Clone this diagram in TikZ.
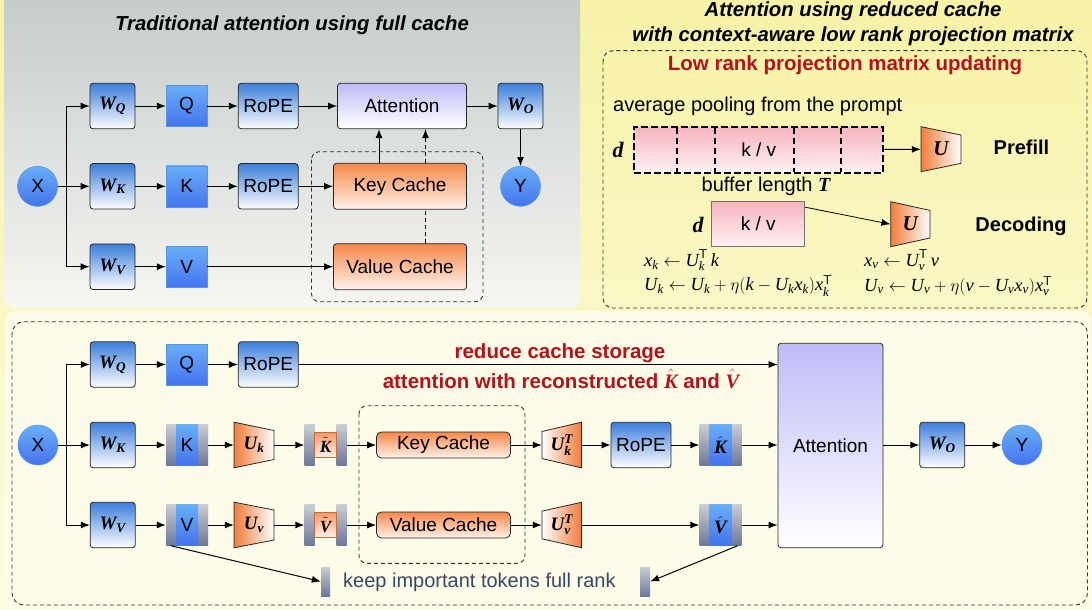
\documentclass[tikz,border=0pt]{standalone}
\usepackage{amsmath}
\usepackage{fontspec}
\setmainfont{Liberation Sans}
\newfontfamily\tms{Liberation Serif}
\newcommand\tb[1]{\text{\tms\bfseries\itshape #1}}
\newcommand\ti[1]{\text{\tms\itshape #1}}
\usetikzlibrary{arrows.meta,calc}
\definecolor{bluetop}{HTML}{3B7EDB}
\definecolor{qtop}{HTML}{68AEF8}
\definecolor{qbot}{HTML}{4574EE}
\definecolor{qborder}{HTML}{5A96E6}
\definecolor{lav}{HTML}{BFBCF7}
\definecolor{orng}{HTML}{F5884A}
\definecolor{orngl}{HTML}{FFF2EA}
\definecolor{trapor}{HTML}{F07C3A}
\definecolor{redt}{HTML}{B5121B}
\definecolor{bartop}{HTML}{CACDD4}
\definecolor{barbot}{HTML}{6A7798}
\definecolor{pinktop}{HTML}{F7B5BE}
\definecolor{pinkbot}{HTML}{FFF2F4}
\definecolor{slate}{HTML}{394666}
\definecolor{graytop}{HTML}{C4CBCA}
\definecolor{graybot}{HTML}{F6F6F2}
\definecolor{yeltop}{HTML}{F7F2A6}
\definecolor{yelbot}{HTML}{FCFCE4}
\definecolor{cream}{HTML}{FCFCE9}
\tikzset{
 base/.style={inner sep=0pt, font=\fontsize{19}{21}\selectfont},
 wbox/.style={base, rounded corners=3pt, draw=black!85, line width=0.8pt, top color=bluetop, bottom color=white, minimum width=45pt, minimum height=45.5pt},
 ropebox/.style={wbox, minimum width=60pt},
 qbox/.style={base, draw=qborder, line width=0.6pt, top color=qtop, bottom color=qbot, minimum width=41pt, minimum height=41pt},
 attnbox/.style={wbox, top color=lav, bottom color=white},
 cachebox/.style={wbox, top color=orng, bottom color=orngl, minimum width=133pt, minimum height=46pt},
 cachesm/.style={wbox, rounded corners=5pt, top color=orng, bottom color=orngl, minimum width=134pt, minimum height=26pt},
 circ/.style={base, circle, draw=qborder, line width=0.6pt, top color=qtop, bottom color=qbot, minimum size=40pt},
 arr/.style={-{Latex[length=9pt,width=7pt]}, line width=1pt, black},
 dbox/.style={dash pattern=on 4pt off 3pt, line width=0.9pt, black!80, rounded corners=10pt},
 barsh/.style={inner sep=0pt, top color=bartop, bottom color=barbot},
 midblue/.style={base, top color=qtop, bottom color=qbot},
 midor/.style={base, font=\fontsize{17}{18}\selectfont, top color=orng!85, bottom color=orngl, draw=orng!80!black, line width=0.7pt},
 pinkbox/.style={base, top color=pinktop, bottom color=pinkbot},
 ttl/.style={inner sep=0pt, font=\fontsize{20.3}{22}\selectfont\bfseries\itshape},
 redlbl/.style={inner sep=0pt, text=redt, font=\fontsize{20.5}{22}\selectfont\bfseries},
 plain/.style={inner sep=0pt, font=\fontsize{20}{22}\selectfont},
 eq/.style={inner sep=0pt, font=\fontsize{18.5}{20}\selectfont},
 dlbl/.style={inner sep=0pt, font=\fontsize{22}{24}\selectfont\tms\bfseries\itshape},
}
\newcommand\trapz[9]{%
 \shade[left color=#7,right color=#8,draw=black!85,line width=0.8pt]
   (#2-#4/2,#3-#5/2) -- (#2+#4/2,#3-#6/2) -- (#2+#4/2,#3+#6/2) -- (#2-#4/2,#3+#5/2) -- cycle;
 \node[base, minimum width=#4pt, minimum height=40pt] (#1) at (#2,#3) {#9};}
\newcommand\barnode[6]{%
 \node[inner sep=0pt, minimum width=42pt, minimum height=41pt] (#1) at (#2,#3) {};
 \node[barsh, minimum width=10pt, minimum height=41pt] (#1l) at ([xshift=-16pt]#1.center) {};
 \node[barsh, minimum width=10pt, minimum height=41pt] (#1r) at ([xshift=16pt]#1.center) {};
 \node[#4, minimum width=22pt, minimum height=#6pt] (#1m) at (#1.center) {#5};}
\begin{document}
\begin{tikzpicture}[x=1pt,y=-1pt]
\useasboundingbox (0,0) rectangle (1092,610);
% backgrounds
\shade[top color=yeltop, bottom color=yelbot] (0,0) rectangle (1092,610);
\shade[top color=graytop, bottom color=graybot, rounded corners=10pt] (4.5,-12) rectangle (580,308);
\fill[cream, rounded corners=10pt] (5,311) rectangle (1091,609);
% ---------- top-left panel ----------
\node[ttl] (t1) at (292,25) {Traditional attention using full cache};
\draw[dbox, rounded corners=8pt] (311.5,151.7) rectangle (483,301.7);
\node[circ] (x1) at (37.6,186.3) {X};
\node[wbox] (wq1) at (112.5,106) {$\tb{W}_{\tb{Q}}$};
\node[wbox] (wk1) at (112.5,186.3) {$\tb{W}_{\tb{K}}$};
\node[wbox] (wv1) at (112.5,266.7) {$\tb{W}_{\tb{V}}$};
\node[qbox] (q1) at (186.6,106) {Q};
\node[qbox] (k1) at (186.6,186.3) {K};
\node[qbox] (v1) at (186.6,266.7) {V};
\node[ropebox] (rq1) at (268.2,106) {RoPE};
\node[ropebox] (rk1) at (268.2,186.3) {RoPE};
\node[attnbox, minimum width=129pt] (at1) at (402,106) {Attention};
\node[cachebox] (kc1) at (400,186.3) {Key Cache};
\node[cachebox] (vc1) at (400,266.7) {Value Cache};
\node[wbox] (wo1) at (520.5,106) {$\tb{W}_{\tb{O}}$};
\node[circ] (y1) at (520.5,186.3) {Y};
\coordinate (sp1) at (66.2,186.3);
\draw[arr] (x1) -- (wk1);
\draw[arr] (sp1) |- (wq1);
\draw[arr] (sp1) |- (wv1);
\draw[arr] (wq1) -- (q1);
\draw[arr] (wk1) -- (k1);
\draw[arr] (wv1) -- (v1);
\draw[arr] (q1) -- (rq1);
\draw[arr] (k1) -- (rk1);
\draw[arr] (rq1) -- (at1);
\draw[arr] (rk1) -- (kc1);
\draw[arr] (v1) -- (vc1);
\draw[arr] (at1) -- (wo1);
\draw[arr] (wo1) -- (y1);
\draw[arr] ([xshift=-21pt]kc1.north) -- ([xshift=-21pt]kc1.north |- at1.south);
\draw[line width=1pt, dash pattern=on 4pt off 3pt] ([xshift=25.5pt]vc1.north) -- ([xshift=25.5pt]kc1.south);
\draw[arr, dash pattern=on 4pt off 3pt] ([xshift=25.5pt]kc1.north) -- ([xshift=25.5pt]kc1.north |- at1.south);
% ---------- top-right panel ----------
\node[ttl] (t2) at (853,11) {Attention using reduced cache};
\node[ttl] (t3) at (853,36) {with context-aware low rank projection matrix};
\draw[dbox] (603,50.7) rectangle (1087,308);
\node[redlbl] (rt) at (845,65) {Low rank projection matrix updating};
\node[plain, anchor=west] (avg) at (613,106.7) {average pooling from the prompt};
\node[pinkbox, minimum width=249pt, minimum height=46pt, draw=black, line width=2.2pt, dash pattern=on 7pt off 3pt] (buf) at (758.7,150) {k / v};
\foreach \xx in {677,715,794,841}
  \draw[line width=1.8pt, dash pattern=on 6pt off 4pt] (\xx,128) -- (\xx,172);
\node[dlbl] (d1) at (618,150) {d};
\trapz{up}{941}{149.2}{40}{45}{28.3}{trapor}{white}{\fontsize{21}{22}\selectfont$\tb{U}$}
\draw[arr] (buf) -- (up);
\node[inner sep=0pt, font=\fontsize{20}{22}\selectfont\bfseries] (pf) at (1021.5,147) {Prefill};
\node[plain] (bl) at (766,186.7) {buffer length {\tms\bfseries\itshape T}};
\node[dlbl] (d2) at (698,225) {d};
\node[pinkbox, minimum width=93pt, minimum height=45pt, draw=black!55, line width=0.8pt] (dec) at (758.3,224.2) {k / v};
\trapz{ud}{910.3}{224.2}{39.3}{45}{27.6}{trapor}{white}{\fontsize{21}{22}\selectfont$\tb{U}$}
\draw[-{Latex[length=9pt,width=7pt]}, line width=0.8pt] ([yshift=17pt]dec.east) -- (ud.west);
\node[inner sep=0pt, font=\fontsize{20}{22}\selectfont\bfseries] (dc) at (1021,226) {Decoding};
\node[eq, anchor=west] (e1) at (644,260) {$\ti{x}_{\ti{k}} \leftarrow \ti{U}_{\ti{k}}^{\mathsf{T}}\, \ti{k}$};
\node[eq, anchor=west] (e2) at (644,286) {$\ti{U}_{\ti{k}} \leftarrow \ti{U}_{\ti{k}} + \eta(\ti{k} - \ti{U}_{\ti{k}} \ti{x}_{\ti{k}})\ti{x}_{\ti{k}}^{\mathsf{T}}$};
\node[eq, anchor=west] (e3) at (864,260) {$\ti{x}_{\ti{v}} \leftarrow \ti{U}_{\ti{v}}^{\mathsf{T}}\, \ti{v}$};
\node[eq, anchor=west] (e4) at (864,286) {$\ti{U}_{\ti{v}} \leftarrow \ti{U}_{\ti{v}} + \eta(\ti{v} - \ti{U}_{\ti{v}} \ti{x}_{\ti{v}})\ti{x}_{\ti{v}}^{\mathsf{T}}$};
% ---------- bottom panel ----------
\draw[dbox, rounded corners=12pt] (12,321.7) rectangle (1087.5,605);
\draw[dbox, rounded corners=8pt] (359,405.7) rectangle (525,563.3);
\node[circ] (x2) at (38,445) {X};
\node[wbox] (wq2) at (112.7,364.5) {$\tb{W}_{\tb{Q}}$};
\node[wbox] (wk2) at (112.7,445) {$\tb{W}_{\tb{K}}$};
\node[wbox] (wv2) at (112.7,525) {$\tb{W}_{\tb{V}}$};
\node[qbox] (q2) at (186.7,364.5) {Q};
\node[ropebox] (rq2) at (268.3,364.5) {RoPE};
\barnode{k2}{187}{445}{midblue}{K}{41}
\barnode{v2}{187}{525}{midblue}{V}{41}
\trapz{uk}{254}{445}{40}{45.6}{29}{trapor}{white}{$\tb{U}_{\tb{k}}$}
\trapz{uv}{254}{525}{40}{45.6}{30}{trapor}{white}{$\tb{U}_{\tb{v}}$}
\barnode{kt}{325.5}{445}{midor}{$\tilde{\tb{K}}$}{25}
\barnode{vt}{325.5}{525}{midor}{$\tilde{\tb{V}}$}{25}
\node[cachesm] (kc2) at (443.5,445) {Key Cache};
\node[cachesm] (vc2) at (443.5,525) {Value Cache};
\trapz{ukt}{561.7}{445}{39.5}{27}{45.6}{white}{trapor}{$\tb{U}_{\tb{k}}^{\tb{T}}$}
\trapz{uvt}{561.7}{525}{39.5}{27.7}{45.4}{white}{trapor}{$\tb{U}_{\tb{v}}^{\tb{T}}$}
\node[ropebox] (rk2) at (641,445) {RoPE};
\barnode{kh}{720.5}{445}{midblue}{$\hat{\tb{K}}$}{41}
\barnode{vh}{720.5}{525}{midblue}{$\hat{\tb{V}}$}{41}
\node[attnbox, minimum width=105pt, minimum height=204.4pt] (at2) at (830.5,445.5) {Attention};
\node[wbox] (wo2) at (942.3,445) {$\tb{W}_{\tb{O}}$};
\node[circ] (y2) at (1022,445) {Y};
\node[redlbl] (r1) at (560,353) {reduce cache storage};
\node[redlbl] (r2) at (561,379) {attention with reconstructed $\hat{\ti{K}}$ and $\hat{\ti{V}}$};
\node[barsh, minimum width=9pt, minimum height=29pt] (bl1) at (325.5,581.5) {};
\node[barsh, minimum width=10pt, minimum height=29pt] (bl2) at (645,581.5) {};
\node[plain, anchor=west, text=slate] (keep) at (343,582) {keep important tokens full rank};
\coordinate (sp2) at (66.7,445);
\draw[arr] (x2) -- (wk2);
\draw[arr] (sp2) |- (wq2);
\draw[arr] (sp2) |- (wv2);
\draw[arr] (wq2) -- (q2);
\draw[arr] (q2) -- (rq2);
\draw[arr] (rq2) -- (rq2 -| at2.west);
\draw[arr] (wk2) -- (k2);
\draw[arr] (k2) -- (uk);
\draw[arr] (uk) -- (kt);
\draw[arr] (kt) -- (kc2);
\draw[arr] (kc2) -- (ukt);
\draw[arr] (ukt) -- (rk2);
\draw[arr] (rk2) -- (kh);
\draw[arr] (kh) -- (kh -| at2.west);
\draw[arr] (wv2) -- (v2);
\draw[arr] (v2) -- (uv);
\draw[arr] (uv) -- (vt);
\draw[arr] (vt) -- (vc2);
\draw[arr] (vc2) -- (uvt);
\draw[arr] (uvt) -- (vh);
\draw[arr] (vh) -- (vh -| at2.west);
\draw[arr] (at2.east |- wo2) -- (wo2);
\draw[arr] (wo2) -- (y2);
\draw[arr] ([xshift=5pt]v2.south west) -- (bl1.west);
\draw[arr] ([xshift=-4pt]vh.south east) -- (bl2.east);
\end{tikzpicture}
\end{document}
